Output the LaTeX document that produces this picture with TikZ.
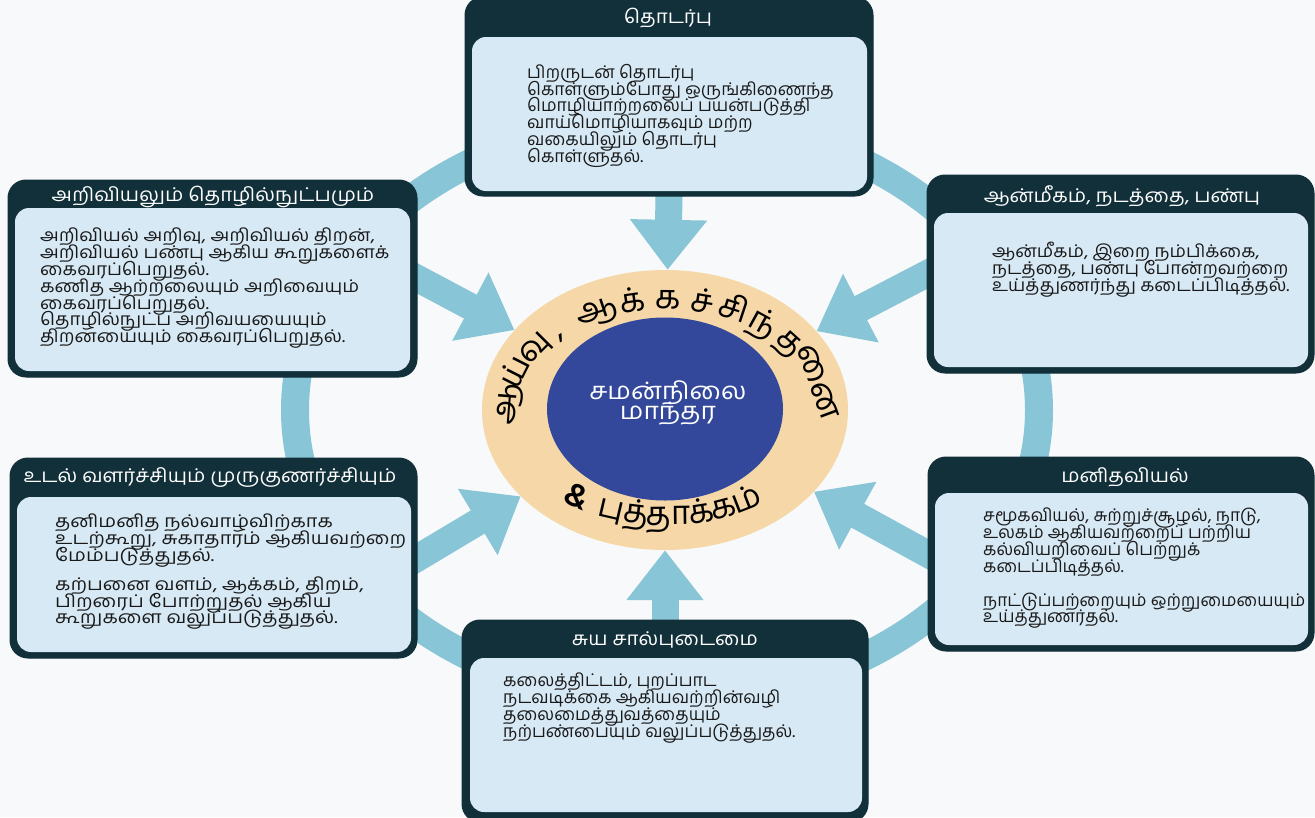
\documentclass[tikz,border=0pt]{standalone}
\usepackage{fontspec}
\setmainfont{Hind Madurai}[Script=Tamil]
\usetikzlibrary{arrows.meta, shapes.geometric, backgrounds}
\definecolor{deep}{HTML}{12303A}
\definecolor{pale}{HTML}{D7E9F5}
\definecolor{sky}{HTML}{88C5D6}
\definecolor{sand}{HTML}{F6D8A8}
\definecolor{royal}{HTML}{33489A}
\definecolor{paper}{HTML}{F8F9FA}
\newcommand\tightlines{\lineskiplimit=-40pt\relax}
\tikzset{
  card/.style={
    rectangle, rounded corners=18pt, fill=deep, draw=deep, line width=1pt,
    inner sep=0pt
  },
  panel/.style={
    rectangle, rounded corners=14pt, fill=pale, inner sep=0pt
  },
  head/.style={
    text=white, inner sep=0pt,
    font=\fontsize{19}{20}\selectfont\addfontfeatures{FakeStretch=1.08}
  },
  descr/.style={
    align=left, anchor=north west, inner sep=0pt, text=black!90,
    font=\fontsize{17.5}{16.8}\selectfont\tightlines\addfontfeatures{FakeStretch=#1}
  },
  descr/.default=1,
  flow/.style={
    draw=sky, line width=27pt, shorten <=-20pt,
    -{Triangle[width=74pt, length=50pt]}
  },
  ringtext/.style={
    anchor=base, inner sep=0pt,
    font=\fontsize{33}{35}\selectfont
  }
}

\begin{document}
\begin{tikzpicture}[x=1pt, y=-1pt]
  \useasboundingbox (0,0) rectangle (1315,817);
  % cards
  \node[card, minimum width=408pt, minimum height=199pt] (comm) at (669,96.5) {};
  \node[panel, minimum width=395pt, minimum height=154pt] (comm-in) at (669.5,114) {};
  \node[head] (comm-head) at (668,18) {தொடர்பு};
  \node[descr] (comm-text) at (527,64) {பிறருடன் தொடர்பு\\கொள்ளும்போது ஒருங்கிணைந்த\\மொழியாற்றலைப் பயன்படுத்தி\\வாய்மொழியாகவும் மற்ற\\வகையிலும் தொடர்பு\\கொள்ளுதல்.};

  \node[card, minimum width=409pt, minimum height=197pt] (sci) at (212.5,278.5) {};
  \node[panel, minimum width=395pt, minimum height=163pt] (sci-in) at (212.5,289.5) {};
  \node[head] (sci-head) at (213,197) {அறிவியலும் தொழில்நுட்பமும்};
  \node[descr=1.08] (sci-text) at (40,228) {அறிவியல் அறிவு, அறிவியல் திறன்,\\அறிவியல் பண்பு ஆகிய கூறுகளைக்\\கைவரப்பெறுதல்.\\கணித ஆற்றலையும் அறிவையும்\\கைவரப்பெறுதல்.\\தொழில்நுட்ப அறிவயயையும்\\திறனயையும் கைவரப்பெறுதல்.};

  \node[card, minimum width=387pt, minimum height=198pt] (ethic) at (1120.5,274) {};
  \node[panel, minimum width=374pt, minimum height=154pt] (ethic-in) at (1121,290) {};
  \node[head] (ethic-head) at (1122,196) {ஆன்மீகம், நடத்தை, பண்பு};
  \node[descr=1.05] (ethic-text) at (992,242) {ஆன்மீகம், இறை நம்பிக்கை,\\நடத்தை, பண்பு போன்றவற்றை\\உய்த்துணர்ந்து கடைப்பிடித்தல்.};

  \node[card, minimum width=407pt, minimum height=200pt] (body) at (213.5,558) {};
  \node[panel, minimum width=394pt, minimum height=155pt] (body-in) at (214,574.5) {};
  \node[head] (body-head) at (210,478) {உடல் வளர்ச்சியும் முருகுணர்ச்சியும்};
  \node[descr=1.14] (body-text) at (55,514) {தனிமனித நல்வாழ்விற்காக\\உடற்கூறு, சுகாதாரம் ஆகியவற்றை\\மேம்படுத்துதல்.\\[12pt]கற்பனை வளம், ஆக்கம், திறம்,\\பிறரைப் போற்றுதல் ஆகிய\\கூறுகளை வலுப்படுத்துதல்.};

  \node[card, minimum width=386pt, minimum height=194pt] (human) at (1121,554) {};
  \node[panel, minimum width=373pt, minimum height=152pt] (human-in) at (1121.5,569) {};
  \node[head] (human-head) at (1125,477) {மனிதவியல்};
  \node[descr=0.99] (human-text) at (983,508) {சமூகவியல், சுற்றுச்சூழல், நாடு,\\உலகம் ஆகியவற்றைப் பற்றிய\\கல்வியறிவைப் பெற்றுக்\\கடைப்பிடித்தல்.\\[17pt]நாட்டுப்பற்றையும் ஒற்றுமையையும்\\உய்த்துணர்தல்.};

  \node[card, minimum width=406pt, minimum height=202pt] (lead) at (665,721) {};
  \node[panel, minimum width=392pt, minimum height=154pt] (lead-in) at (666,735) {};
  \node[head] (lead-head) at (665,640) {சுய சால்புடைமை};
  \node[descr] (lead-text) at (503,673) {கலைத்திட்டம், புறப்பாட\\நடவடிக்கை ஆகியவற்றின்வழி\\தலைமைத்துவத்தையும்\\நற்பண்பையும் வலுப்படுத்துதல்.};

  % centre
  \node[ellipse, fill=sand, minimum width=366pt, minimum height=280pt, inner sep=0pt] (hub) at (665,410) {};
  \node[ellipse, fill=royal, minimum width=236pt, minimum height=183pt, inner sep=0pt] (core) at (665,409) {};
  \node[text=white, align=center, font=\fontsize{24}{20}\selectfont\tightlines\addfontfeatures{FakeStretch=1.1}] (core-text) at (668,403) {சமன்நிலை\\மாந்தர};

  % ring text, one glyph at a time
  \foreach \a/\s [count=\i] in {177/ஆ, 161/ய், 146/வு, 134/{,}, 116/ஆ, 102/க், 89/க, 76/ச், 64/சி, 51/ந், 37/த, 14/னை}
    \node[ringtext, rotate={atan2(-101*cos(\a),149*sin(\a))}] (arc-\i) at ({665+149*cos(\a)},{410-101*sin(\a)}) {\s};
  \foreach \a/\s [count=\i] in {237/\textbf{\&}, 251/பு, 260/த், 271/தா, 283/க், 291/க, 300/ம்}
    \node[ringtext, rotate={atan2(115*cos(\a),-170*sin(\a))}] (low-\i) at ({665+170*cos(\a)},{410-115*sin(\a)}) {\s};

  \begin{pgfonlayer}{background}
    \fill[paper] (0,0) rectangle (1315,817);
    \draw[sky, line width=28pt] (667,410) ellipse [x radius=372pt, y radius=291pt];
    \draw[flow] (comm.south) -- (hub);
    \draw[flow] (lead.north) -- (hub);
    \draw[flow] (sci.east) -- (hub);
    \draw[flow] (ethic.west) -- (hub);
    \draw[flow] (body.east) -- (hub);
    \draw[flow] (human.west) -- (hub);
  \end{pgfonlayer}
\end{tikzpicture}
\end{document}
